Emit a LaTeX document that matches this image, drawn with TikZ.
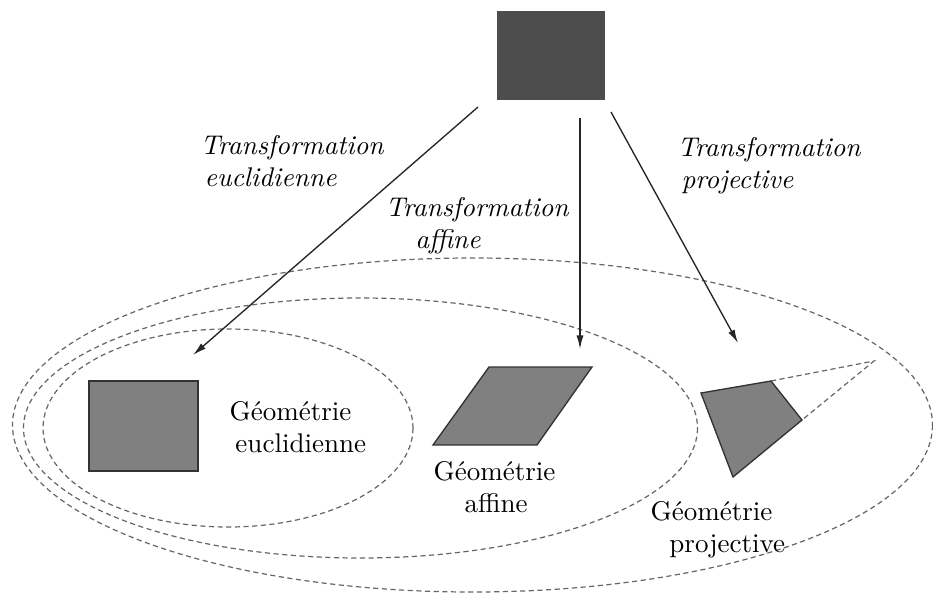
\documentclass[tikz,border=0pt]{standalone}
\usetikzlibrary{arrows.meta, calc}
\definecolor{shapeDark}{HTML}{4D4D4D}
\definecolor{shapeGrey}{HTML}{808080}
\definecolor{dashGrey}{HTML}{666666}

\begin{document}
\begin{tikzpicture}[
  x=0.37pt, y=-0.37pt,                 % one unit = one pixel of the 933x593 frame
  figure/.style={draw=black!80, line width=0.5pt, fill=shapeGrey},
  transfo/.style={-{Latex[length=5pt, width=2.6pt]}, draw=black!85, line width=0.5pt},
  geozone/.style={draw=dashGrey, line width=0.45pt, dash pattern=on 1.9pt off 1.3pt},
  translabel/.style={font=\itshape, align=left, inner sep=0pt, anchor=west},
  geolabel/.style={align=left, inner sep=0pt, anchor=west}
]
  \useasboundingbox (0,0) rectangle (933,593);

  % --- nested geometry domains (projective > affine > euclidean) ---
  \draw[geozone] (472.5,425) ellipse (460 and 167);
  \draw[geozone] (360.5,428) ellipse (337 and 130);
  \draw[geozone] (228,428) ellipse (185 and 99);

  % --- source figure and its images ---
  \node[fill=shapeDark, minimum width=40pt, minimum height=33pt, inner sep=0pt] (src) at (551,55.5) {};
  \node[figure, minimum width=40.3pt, minimum height=33.3pt, inner sep=0pt] (eucSq) at (143.5,426) {};

  % parallelogram (affine image)
  \coordinate (pA) at (433,445);
  \coordinate (pB) at (537,445);
  \coordinate (pC) at (592,367);
  \coordinate (pD) at (489,367);
  \draw[figure] (pA) -- (pB) -- (pC) -- (pD) -- cycle;

  % quadrilateral (projective image) with its vanishing point
  \coordinate (qA) at (701,393);
  \coordinate (qB) at (771,381);
  \coordinate (qC) at (802,420);
  \coordinate (qD) at (733,477);
  \coordinate (vanish) at (874,361);
  \draw[geozone] (qB) -- (vanish) -- (qC);
  \draw[figure] (qA) -- (qB) -- (qC) -- (qD) -- cycle;

  % --- transformations ---
  \coordinate (eucStart) at (478,107);
  \coordinate (eucTip)   at (193,355);
  \coordinate (affStart) at (580,118);
  \coordinate (affTip)   at (580,349);
  \coordinate (proStart) at (611,112);
  \coordinate (proTip)   at (738,343);
  \draw[transfo] (eucStart) -- (eucTip);
  \draw[transfo] (affStart) -- (affTip);
  \draw[transfo] (proStart) -- (proTip);

  \node[translabel] (eucLabel) at (200,161) {Transformation\\\hspace*{1.5pt}euclidienne};
  \node[translabel] (affLabel) at (385,226) {Transformation\\\hspace*{11pt}affine};
  \node[translabel] (proLabel) at (677,166) {Transformation\\\hspace*{1.5pt}projective};

  % --- geometry names ---
  \node[geolabel] (eucName) at (229,427) {G\'eom\'etrie\\\hspace*{2.2pt}euclidienne};
  \node[geolabel] (affName) at (433,487) {G\'eom\'etrie\\\hspace*{11.5pt}affine};
  \node[geolabel] (proName) at (650,530) {G\'eom\'etrie\\\hspace*{7pt}projective};

\end{tikzpicture}
\end{document}
